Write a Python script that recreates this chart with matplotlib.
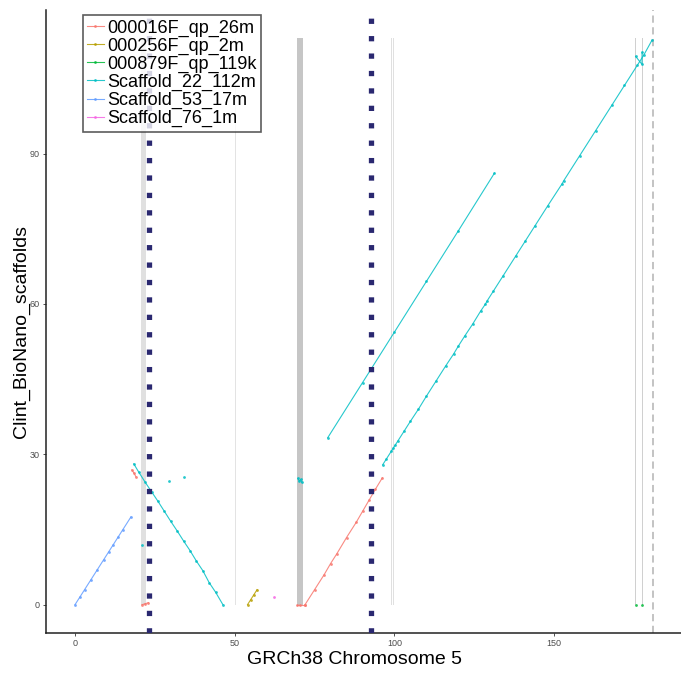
import matplotlib
matplotlib.use("Agg")
import matplotlib.pyplot as plt

plt.rcParams["font.family"] = ["Liberation Sans", "DejaVu Sans"]

# Alignment segments per scaffold: reference (Mb) vs query (Mb), as polylines
SCAFFOLDS = [
    "000016F_qp_26m",
    "000256F_qp_2m",
    "000879F_qp_119k",
    "Scaffold_22_112m",
    "Scaffold_53_17m",
    "Scaffold_76_1m",
]
COLORS = ["#F8766D", "#B79F00", "#00BA38", "#00BFC4", "#619CFF", "#F564E3"]

red_runs = [
    ([17.8, 18.5, 19.1], [26.9, 26.2, 25.5]),
    ([21.0, 22.0, 23.0], [0.0, 0.2, 0.4]),
    ([69.5, 70.5, 72.0], [0.0, 0.0, 0.0]),
    ([72.0, 75.0, 78.0, 80.0, 82.0, 85.0, 88.0, 90.0, 92.0, 94.0, 96.2],
     [0.0, 3.0, 6.0, 8.2, 10.2, 13.4, 16.4, 18.6, 20.8, 23.0, 25.3]),
]
olive_runs = [
    ([54.0, 55.0, 56.0, 57.0], [0.0, 1.0, 2.0, 3.0]),
]
green_runs = [
    ([175.5], [0.0]),
    ([177.5], [0.0]),
]
cyan_runs = [
    ([18.4, 20.0, 22.0, 24.0, 26.0, 28.0, 30.0, 32.0, 34.0, 36.0, 38.0, 40.0, 42.0, 44.0, 46.3],
     [28.1, 26.4, 24.4, 22.5, 20.6, 18.6, 16.6, 14.7, 12.7, 10.8, 8.7, 6.8, 4.4, 2.5, 0.0]),
    ([20.9], [12.0]),
    ([29.4], [24.7]),
    ([34.0], [25.5]),
    ([69.8, 70.2, 70.6, 71.0], [25.2, 24.6, 25.0, 24.4]),
    ([79.1, 90.0, 100.0, 110.0, 120.0, 131.3], [33.3, 44.3, 54.4, 64.5, 74.6, 86.1]),
    ([96.3, 97.5, 99.0, 99.7, 100.2, 101.0, 103.0, 105.0, 107.5, 110.0, 113.0, 116.0,
      118.5, 120.0, 122.0, 124.5, 127.0, 128.5, 129.0, 131.0, 134.0, 138.0, 141.0,
      144.0, 148.0, 152.5, 153.0, 158.0, 163.0, 168.0, 172.0, 176.0, 178.0, 180.6],
     [27.9, 29.1, 30.6, 31.3, 31.8, 32.6, 34.6, 36.6, 39.0, 41.6, 44.6, 47.6,
      50.0, 51.6, 53.6, 56.0, 58.6, 60.0, 60.6, 62.6, 65.6, 69.6, 72.6,
      75.6, 79.6, 84.0, 84.6, 89.6, 94.6, 99.6, 103.6, 107.6, 109.6, 112.6]),
    ([175.5, 177.5, 177.5], [109.4, 107.8, 110.2]),
]
blue_runs = [
    ([0.0, 1.5, 3.0, 5.0, 7.0, 9.0, 10.5, 12.0, 13.5, 15.0, 17.5],
     [0.0, 1.5, 3.0, 5.0, 7.0, 9.0, 10.5, 12.0, 13.5, 15.0, 17.5]),
]
magenta_runs = [
    ([62.2], [1.6]),
]
RUNS = [red_runs, olive_runs, green_runs, cyan_runs, blue_runs, magenta_runs]

# Annotated gap / centromere tracks on the reference (start, end, colour)
GAP_START = [-0.1, 20.6, 34.0, 50.2, 69.4, 99.0, 99.7, 175.4, 177.4]
GAP_END = [0.15, 22.2, 34.25, 50.45, 71.5, 99.2, 99.9, 175.65, 177.65]
GAP_COLORS = ["#E3E3E3", "#E0E0E0", "#C4C4C4", "#E3E3E3", "#C6C6C6",
              "#E0E0E0", "#E0E0E0", "#D0D0D0", "#D0D0D0"]
GAP_TOP = 113.0

BREAKPOINTS = [23.1, 92.8]
CHROM_END = 181.0

X_TICKS = [0, 50, 100, 150]
Y_TICKS = [0, 30, 60, 90]

fig = plt.figure(figsize=(6.81, 6.73), dpi=100)
ax = fig.add_axes([46 / 681, 40 / 673, 1 - 46 / 681, 623 / 673])

for start, end, color in zip(GAP_START, GAP_END, GAP_COLORS):
    ax.fill_between([start, end], 0, GAP_TOP, color=color, linewidth=0, zorder=1)

ax.axvline(CHROM_END, color="#BEBEBE", linestyle=(0, (4, 2.5)), linewidth=1.3, zorder=1)

for name, color, runs in zip(SCAFFOLDS, COLORS, RUNS):
    for i, (xs, ys) in enumerate(runs):
        ax.plot(xs, ys, color=color, linewidth=0.8, alpha=0.85, marker="o",
                markersize=2.0, markeredgewidth=0, zorder=3,
                label=name if i == 0 else None)

for bp in BREAKPOINTS:
    ax.axvline(bp, color="#2A2870", linewidth=3.8, linestyle=(0, (1, 2.3)),
               dash_capstyle="butt", zorder=4)

ax.set_xlim(-9.08, 189.7)
ax.set_ylim(-5.65, 118.65)
ax.set_xticks(X_TICKS)
ax.set_yticks(Y_TICKS)
ax.tick_params(axis="both", labelsize=6.5, labelcolor="#4D4D4D", color="#333333",
               length=2.5, width=0.6, pad=2)
for side in ["top", "right"]:
    ax.spines[side].set_visible(False)
for side in ["left", "bottom"]:
    ax.spines[side].set_linewidth(1.1)
    ax.spines[side].set_color("#222222")

fig.text(354 / 681, 1 - 660 / 673, "GRCh38 Chromosome 5", fontsize=14,
         ha="center", va="center")
fig.text(21 / 681, 1 - 332 / 673, "Clint_BioNano_scaffolds", fontsize=14,
         ha="center", va="center", rotation=90)

leg = ax.legend(loc="upper left", bbox_to_anchor=(0.058, 0.992), fontsize=13,
                handlelength=0.9, handletextpad=0.2, labelspacing=0.05,
                borderpad=0.25, borderaxespad=0, frameon=True, fancybox=False)
leg.get_frame().set_edgecolor("#333333")
leg.get_frame().set_linewidth(1.2)
leg.set_zorder(5)

fig.savefig("out.png", dpi=100)
